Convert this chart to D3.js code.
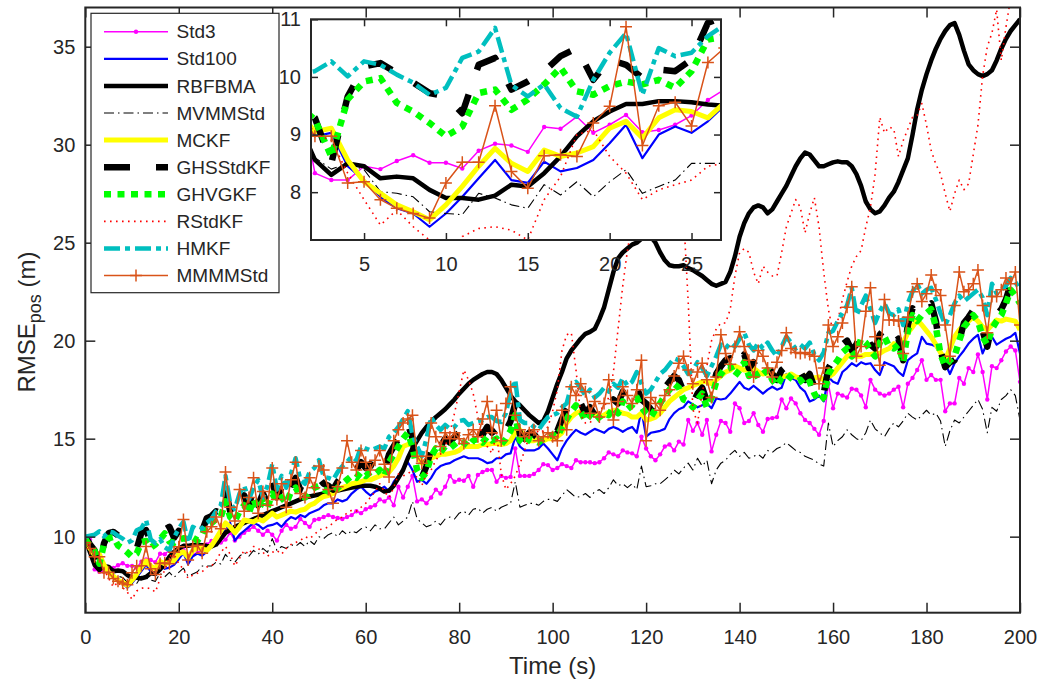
<!DOCTYPE html>
<html><head><meta charset="utf-8">
<script src="https://cdn.jsdelivr.net/npm/d3@7"></script>
<style>body{margin:0;background:#fff}text{font-family:"Liberation Sans",Arial,Helvetica,sans-serif;fill:#262626}</style>
</head><body>
<script>
// ---- data (RMSE of position, m), one value per second t = 0..200 ----
const xTicks = [0,20,40,60,80,100,120,140,160,180,200];
const yTicks = [10,15,20,25,30,35];
const insetXTicks = [5,10,15,20,25];
const insetYTicks = [8,9,10,11];
const seriesNames = ["Std3","Std100","RBFBMA","MVMMStd","MCKF","GHSStdKF","GHVGKF","RStdKF","HMKF","MMMMStd"];

const std3 = [
10.0,9.85,8.33,8.21,8.21,8.45,8.40,8.54,8.64,8.51,
8.51,8.41,8.72,8.84,8.81,8.70,9.13,9.10,9.31,9.03,
9.17,9.34,9.04,9.08,9.17,9.33,9.60,9.78,9.75,9.70,
9.85,10.2,9.8,10.0,10.2,10.35,10.5,10.3,10.1,10.3,
10.1,9.8,10.3,10.6,10.4,10.5,10.9,10.7,10.5,10.85,
10.9,11.0,11.1,11.0,10.95,10.9,11.0,11.1,11.3,11.2,
11.4,11.5,11.6,11.9,11.8,12.0,11.6,12.55,12.0,12.55,
13.1,11.8,11.9,11.7,12.0,12.4,12.2,12.55,13.1,12.8,
12.9,12.85,13.1,12.55,13.15,13.3,13.4,13.4,12.8,13.1,
13.0,13.05,14.5,13.1,13.1,13.1,13.2,13.4,13.7,13.65,
13.4,13.5,13.7,13.6,13.5,13.9,13.8,13.8,13.8,13.75,
13.8,14.0,14.3,14.2,14.1,14.4,14.3,14.25,14.1,15.1,
14.5,14.1,13.9,14.2,14.6,14.7,14.4,14.85,14.7,15.95,
15.4,15.8,15.2,15.95,14.35,15.2,15.9,15.8,15.35,16.8,
16.55,15.8,15.9,16.3,15.7,15.35,16.0,16.05,16.1,17.0,
16.55,17.05,16.8,16.3,15.95,15.8,15.5,15.2,15.9,17.8,
16.55,17.3,17.2,17.1,17.55,17.5,17.2,16.6,18.0,17.5,
17.3,17.2,17.3,17.5,17.65,16.6,17.8,18.1,18.5,19.0,
18.0,18.25,18.0,18.0,16.4,16.8,16.8,18.1,17.8,18.6,
18.4,19.3,18.4,17.0,18.7,18.6,19.0,19.45,19.7,19.5,
17.9];

const std100 = [
10.0,9.5,8.97,9.03,8.45,8.21,7.92,7.72,7.63,7.40,
7.63,7.92,8.24,8.56,8.21,8.16,8.53,8.36,8.42,8.56,
8.85,9.17,8.59,9.0,9.14,9.03,9.23,9.5,9.7,10.0,
10.3,10.7,9.8,10.1,10.3,10.5,10.7,10.6,10.4,10.55,
10.6,10.7,10.5,10.8,11.0,10.9,11.1,11.0,11.2,11.3,
11.4,11.6,11.7,11.7,11.9,11.8,11.9,12.2,12.4,12.55,
12.3,12.1,12.3,12.4,12.55,12.3,12.8,13.1,13.4,13.8,
13.4,12.8,12.9,12.7,13.0,13.4,13.6,13.7,13.75,13.9,
14.0,14.1,14.0,14.0,14.0,13.9,13.75,13.8,14.0,14.0,
14.2,14.25,15.1,14.6,14.4,14.4,14.4,14.5,14.75,14.5,
14.2,13.9,14.5,14.9,15.2,15.45,15.3,15.2,15.35,15.5,
15.4,15.3,15.5,15.6,15.5,15.35,15.5,15.6,15.3,16.45,
15.1,15.3,15.35,15.4,15.5,16.0,16.3,16.5,16.6,16.9,
16.75,16.6,16.7,16.8,16.55,17.05,17.0,17.05,17.3,17.6,
17.9,17.6,17.5,17.7,17.5,17.3,17.5,17.65,17.5,17.6,
18.3,18.1,18.0,17.6,17.4,16.9,17.0,17.2,16.9,18.15,
17.9,17.8,18.4,18.6,18.85,18.7,18.9,18.8,18.85,18.5,
18.25,18.9,18.8,18.7,18.4,18.2,19.0,19.2,19.35,20.2,
19.85,19.8,19.7,19.3,18.85,18.3,18.85,19.2,19.5,19.85,
20.1,20.3,19.35,19.9,20.2,19.8,19.95,20.1,20.2,20.4,
19.35];

const rbfbma = [
9.9,9.2,8.56,8.30,8.50,8.45,8.24,8.27,8.24,8.04,
7.90,7.90,7.87,7.94,8.13,8.10,8.33,8.62,8.97,9.23,
9.40,9.53,9.53,9.58,9.58,9.56,9.52,9.50,9.6,9.9,
10.2,10.35,10.5,10.6,10.7,10.8,10.9,11.0,11.1,11.2,
11.3,11.4,11.5,11.6,11.7,11.8,11.9,12.0,12.05,12.1,
12.15,12.2,12.25,12.3,12.35,12.4,12.45,12.5,12.55,12.6,
12.6,12.6,12.55,12.45,12.3,12.35,12.6,13.0,13.4,14.0,
14.5,14.9,15.3,15.6,15.85,16.1,16.3,16.5,16.75,17.0,
17.3,17.55,17.8,18.0,18.15,18.3,18.4,18.4,18.3,18.0,
17.6,17.2,16.9,16.7,16.45,16.2,16.0,15.8,15.9,16.4,
17.1,17.8,18.4,19.1,19.5,19.8,20.1,20.35,20.45,20.6,
21.1,21.7,22.6,23.5,24.2,24.5,24.7,24.9,25.0,25.2,
25.3,25.3,25.0,24.5,24.1,23.85,23.8,23.8,23.85,23.7,
23.6,23.45,23.3,23.1,22.9,22.8,22.9,23.0,23.5,24.3,
25.3,26.0,26.5,26.8,26.9,26.8,26.5,26.7,27.1,27.5,
27.9,28.4,28.9,29.3,29.6,29.5,29.2,28.9,28.9,29.0,
29.1,29.15,29.1,29.1,28.9,28.5,27.9,27.1,26.7,26.5,
26.6,26.9,27.3,27.6,28.1,28.7,29.3,30.5,31.8,32.8,
33.6,34.3,34.9,35.4,35.8,36.1,36.2,35.6,34.8,34.1,
33.8,33.6,33.5,33.6,33.8,34.3,34.9,35.4,35.8,36.1,
36.4];

const mvmmstd = [
9.9,9.3,8.6,8.4,8.50,8.39,8.01,7.98,7.92,7.66,
7.63,7.61,7.98,7.90,7.78,7.72,8.13,7.95,8.18,7.92,
8.18,8.39,7.98,8.10,8.21,8.50,8.50,8.5,8.7,8.6,
9.1,8.8,8.7,9.0,9.2,9.0,9.3,9.1,9.4,9.2,
9.9,9.3,9.5,9.4,9.6,9.5,9.7,9.5,9.8,9.6,
10.0,9.9,10.1,10.2,10.0,10.3,10.1,10.3,10.2,10.4,
10.5,10.3,10.6,10.4,10.4,10.7,11.0,10.6,10.8,11.0,
11.8,10.9,10.7,10.5,10.6,10.8,10.6,10.9,11.0,10.9,
11.2,11.3,11.1,11.4,11.45,11.2,11.4,11.5,11.3,11.5,
11.6,11.7,12.8,11.5,11.6,11.7,11.7,11.6,11.8,11.9,
11.9,11.8,12.1,12.4,12.2,12.0,12.05,12.2,12.0,12.3,
12.4,12.2,12.5,12.9,12.6,12.7,12.5,12.7,12.4,13.6,
12.55,12.6,12.7,12.7,12.9,13.1,13.4,13.2,13.5,13.75,
13.4,14.0,13.6,13.9,12.7,13.4,13.75,13.9,14.2,14.4,
14.1,14.3,14.0,14.1,14.2,14.0,14.4,14.3,14.5,14.6,
14.8,14.6,14.4,14.3,14.1,14.0,13.9,13.7,13.6,15.8,
14.6,14.9,15.1,15.45,15.2,15.0,14.9,15.3,15.95,15.5,
15.3,15.1,15.5,15.8,15.6,15.9,16.3,16.1,15.95,16.2,
16.45,16.2,16.3,15.9,14.6,15.4,15.95,15.8,16.1,16.4,
16.7,17.0,16.5,15.3,16.6,16.4,17.0,17.2,17.5,17.2,
15.95];

const mckf = [
9.95,9.4,9.05,9.11,8.56,8.18,7.98,7.78,7.66,7.52,
7.78,8.10,8.45,8.76,8.50,8.36,8.73,8.62,8.68,8.79,
9.11,9.23,8.94,9.29,9.43,9.40,9.29,9.55,9.9,10.3,
10.7,10.5,10.2,10.5,10.85,10.8,10.75,10.9,10.8,11.0,
11.2,11.0,11.1,11.2,11.3,11.25,11.35,11.4,11.6,11.7,
11.9,12.05,12.1,12.2,12.4,12.5,12.6,12.7,12.75,12.8,
12.9,12.9,13.0,13.1,13.2,13.3,13.6,14.0,14.6,14.7,
14.75,14.2,13.75,13.8,14.0,14.1,14.2,14.2,14.25,14.3,
14.4,14.6,14.6,14.6,14.6,14.7,14.7,14.75,14.75,14.7,
14.75,14.9,15.3,15.45,15.1,14.9,14.9,14.95,14.9,15.0,
15.0,15.1,15.3,15.8,16.1,16.3,16.4,16.35,16.3,16.3,
16.1,16.2,16.35,16.45,16.4,16.3,16.25,16.1,16.1,16.3,
15.95,16.0,16.1,16.3,16.6,16.9,17.1,17.3,17.5,17.6,
17.7,17.8,17.9,17.9,17.8,18.0,18.2,18.4,18.5,18.7,
18.6,18.5,18.5,18.6,18.4,18.3,18.35,18.3,18.2,18.15,
18.2,18.3,18.15,18.1,18.2,18.15,18.1,18.15,18.0,18.15,
18.3,18.6,18.9,19.2,19.3,19.2,19.2,19.3,19.3,19.35,
19.35,19.5,19.6,19.85,19.7,19.9,20.4,20.7,21.05,20.8,
20.5,20.2,19.8,19.4,19.0,19.6,20.2,20.55,20.8,21.0,
21.2,21.0,20.7,20.55,20.8,21.05,21.0,21.1,21.05,21.0,
20.55];

const ghsstdkf = [
10.0,9.6,9.29,8.50,9.66,10.18,10.24,10.07,9.90,9.72,
9.66,9.37,10.21,10.33,9.78,9.92,10.10,10.36,10.50,9.95,
10.30,10.21,9.98,10.13,10.10,10.30,10.94,11.05,11.3,11.2,
12.4,11.3,11.0,11.6,12.1,11.5,12.6,11.6,12.2,11.7,
12.8,12.0,12.5,11.9,12.6,13.0,12.4,12.3,12.6,12.8,
13.0,12.7,12.6,12.4,12.8,13.1,13.3,13.6,13.4,13.8,
13.5,13.7,13.6,13.9,13.4,14.2,14.6,15.0,15.4,15.8,
15.0,13.5,13.0,13.6,14.5,15.0,14.6,15.0,14.8,15.1,
15.3,15.2,15.0,15.3,15.4,15.2,15.6,15.3,15.5,15.0,
15.4,15.9,16.8,15.2,15.0,15.3,15.2,15.0,15.3,15.4,
15.6,15.4,16.0,16.5,16.9,17.2,16.8,16.3,16.6,16.2,
16.5,16.7,16.6,17.0,16.8,17.4,16.9,17.1,17.6,17.0,
16.8,16.5,16.9,17.2,17.6,17.9,18.2,18.0,17.4,17.2,
16.8,17.3,17.6,16.9,17.4,18.3,18.7,19.0,19.1,18.6,
18.9,19.3,18.6,18.9,18.4,18.7,18.8,18.3,18.0,18.5,
18.7,18.5,18.2,18.4,18.0,18.3,17.6,17.0,17.3,18.6,
19.0,19.3,19.8,20.0,19.5,19.8,20.5,20.3,19.8,19.6,
20.3,20.6,20.0,19.9,20.1,19.0,20.8,21.65,21.3,21.6,
21.7,21.9,21.0,19.5,18.65,18.9,19.0,20.0,20.9,21.2,
21.55,21.2,20.5,19.7,20.8,21.3,21.6,22.1,22.9,22.5,
22.2];

const ghvgkf = [
9.9,9.5,9.26,8.62,9.61,9.92,9.98,9.55,9.40,9.20,
8.97,9.14,9.72,9.78,9.43,9.61,9.87,10.16,9.75,9.69,
9.84,9.92,9.87,9.95,9.81,10.10,10.65,10.7,10.9,11.0,
11.8,11.0,10.8,11.3,11.6,11.2,11.9,11.4,11.8,11.5,
12.2,11.8,12.0,11.7,12.3,12.5,12.1,12.0,12.3,12.5,
12.6,12.4,12.3,12.2,12.5,12.7,12.9,13.1,13.0,13.3,
13.1,13.3,13.2,13.4,13.1,13.8,14.2,14.6,15.0,15.3,
14.6,13.4,13.0,13.3,14.1,14.5,14.3,14.6,14.5,14.7,
14.9,14.8,14.6,14.9,15.0,14.8,15.1,14.9,15.0,14.7,
15.0,15.4,16.2,14.9,14.7,15.0,14.9,14.8,15.0,15.1,
15.2,15.1,15.6,16.0,16.4,16.7,16.4,15.9,16.2,15.9,
16.1,16.3,16.2,16.6,16.3,16.9,16.5,16.7,17.1,16.6,
16.3,16.1,16.5,16.8,17.2,17.5,17.8,17.6,17.0,16.9,
16.6,17.0,17.3,16.6,17.1,17.9,18.3,18.6,18.7,18.2,
18.5,18.9,18.2,18.5,18.1,18.3,18.5,18.0,17.7,18.1,
18.3,18.1,17.9,18.0,17.7,17.9,17.3,16.9,17.1,18.3,
18.7,19.0,19.4,19.6,19.2,19.4,20.1,19.9,19.5,19.2,
19.9,20.2,19.7,19.6,19.8,18.9,20.5,21.3,21.0,21.3,
21.4,21.6,20.7,19.3,18.7,19.0,19.2,20.0,20.7,21.0,
21.3,21.0,20.2,19.8,20.6,21.0,21.3,21.9,22.6,22.3,
21.9];

const rstdkf = [
9.9,9.5,9.0,8.9,8.33,7.87,7.43,7.69,7.40,7.17,
6.8,7.23,7.37,7.40,7.34,7.17,7.87,8.27,9.0,9.08,
8.62,8.33,7.87,8.04,8.13,8.21,8.45,8.5,8.8,9.2,
9.5,9.1,8.5,8.9,9.3,9.1,9.5,9.4,9.2,9.0,
9.2,9.3,9.1,9.4,9.6,9.7,9.8,10.0,9.9,10.1,
10.35,10.4,10.5,10.7,10.9,11.0,11.2,11.35,11.3,11.5,
11.7,12.0,12.3,12.7,12.3,12.0,12.5,13.2,13.1,13.2,
13.4,13.0,12.6,13.2,13.4,13.9,14.2,14.6,15.3,16.3,
17.4,18.5,18.0,17.3,16.1,15.1,14.6,14.25,15.3,13.2,
12.4,12.7,13.1,13.7,14.4,15.1,15.6,15.3,15.4,15.6,
16.4,17.5,19.5,20.3,20.4,18.5,16.2,15.8,15.8,16.2,
16.5,16.6,17.1,18.4,20.6,22.8,24.6,26.0,27.0,27.5,
27.8,27.6,27.2,26.8,26.6,26.3,26.0,25.8,26.5,22.0,
16.5,15.8,17.3,18.7,20.0,20.6,20.9,20.9,21.6,23.3,
24.5,24.7,24.5,23.5,22.9,23.8,23.5,23.3,23.3,24.5,
25.8,26.5,27.2,26.8,25.5,26.5,27.3,25.8,23.5,21.6,
20.4,21.0,22.1,23.0,23.8,24.3,24.6,25.8,26.8,28.5,
31.4,30.6,30.9,30.8,29.4,30.2,30.8,31.4,31.5,32.1,
31.0,29.7,29.0,28.5,27.5,26.6,27.5,28.2,27.7,28.0,
29.5,31.0,33.5,35.0,35.7,36.9,34.3,36.0,37.5,37.5,
38.0];

const hmkf = [
10.0,10.05,10.1,10.27,10.01,10.27,10.21,10.04,9.90,9.69,
9.81,10.33,10.44,10.85,9.86,9.66,9.87,9.46,9.31,9.95,
10.42,10.76,9.69,10.50,10.36,10.42,10.71,10.9,11.3,11.6,
13.1,11.7,11.4,12.2,12.6,11.9,12.5,12.9,12.0,12.6,
13.7,12.4,13.1,12.5,13.2,14.0,12.9,12.7,13.3,13.5,
13.9,13.05,13.0,12.9,13.3,13.6,13.8,14.1,13.9,14.6,
14.5,14.4,14.5,14.6,14.5,15.1,15.3,15.6,16.0,16.4,
15.2,14.6,14.1,15.0,16.1,15.7,15.45,15.7,15.5,15.6,
15.9,15.95,15.7,15.8,15.9,15.95,16.1,16.1,15.9,15.85,
16.3,17.4,18.0,15.95,15.8,15.8,15.6,15.45,15.8,16.1,
16.2,16.3,16.6,16.8,17.7,17.9,17.6,17.2,17.5,17.1,
17.3,17.6,17.4,17.8,17.6,18.1,17.7,17.9,18.4,17.8,
17.3,17.5,17.9,18.3,18.5,18.8,19.1,19.0,18.7,18.3,
18.5,18.9,18.6,18.2,18.7,19.2,19.8,19.6,19.9,19.7,
20.1,20.4,19.8,19.5,19.9,19.6,19.9,19.5,19.2,19.7,
20.2,19.9,19.6,19.8,19.6,19.9,19.3,19.0,19.4,20.4,
20.5,21.0,21.4,21.8,22.7,21.3,21.8,22.3,21.6,20.9,
21.5,21.9,21.4,21.3,21.6,20.8,21.9,22.5,22.9,22.4,
22.6,22.7,22.1,21.4,20.8,21.3,21.9,22.3,22.0,22.2,
22.4,22.6,22.2,21.3,22.9,22.4,22.6,22.8,23.2,23.0,
22.6];

const mmmmstd = [
9.7,9.4,8.97,8.97,8.16,8.18,7.87,7.72,7.63,7.55,
8.16,8.52,8.52,9.50,8.36,8.07,8.63,8.65,8.62,9.20,
9.49,10.87,8.81,9.50,9.56,9.15,10.25,10.5,11.0,10.4,
13.3,11.5,10.8,12.4,11.3,12.0,13.0,11.2,12.3,11.6,
13.5,11.9,12.7,11.5,12.9,13.8,12.2,12.0,13.0,12.5,
13.6,13.4,12.4,11.7,12.55,13.5,14.9,13.8,13.4,14.4,
13.8,13.4,13.9,14.4,13.7,13.05,14.9,15.45,15.8,16.0,
16.2,14.1,13.75,14.1,15.8,15.1,14.6,15.3,15.0,15.3,
15.0,14.75,15.2,15.45,15.1,16.0,16.9,15.3,16.45,14.9,
16.8,17.65,16.2,15.45,15.1,15.3,15.45,14.9,15.1,15.3,
15.1,14.9,16.45,15.45,17.65,17.2,17.8,17.4,16.3,16.9,
16.1,16.8,18.0,15.95,16.9,17.65,17.2,16.8,17.5,19.0,
14.9,17.1,16.8,16.45,17.2,17.5,18.2,18.85,19.2,18.5,
17.8,18.4,18.85,18.0,17.1,18.15,20.3,19.35,18.8,19.7,
20.45,19.7,19.0,18.15,19.5,19.2,18.6,18.15,18.9,19.5,
20.4,19.6,19.4,19.35,19.4,19.3,19.2,17.8,18.6,20.8,
19.7,20.2,20.9,21.7,22.75,19.2,19.7,21.5,22.7,20.2,
18.75,22.1,21.05,21.05,21.0,19.35,21.2,22.5,22.9,22.0,
22.4,23.35,22.6,22.3,20.8,19.2,21.8,23.5,22.5,22.6,
22.9,23.6,21.8,20.4,22.25,22.25,22.6,23.2,22.9,23.5,
20.8];

const seriesValues = [std3,std100,rbfbma,mvmmstd,mckf,ghsstdkf,ghvgkf,rstdkf,hmkf,mmmmstd];

// ---- styles ----
const styles = [
  {color:"#ff00ff", width:1.5, dash:null, marker:"dot"},
  {color:"#0000ff", width:2.2, dash:null},
  {color:"#000000", width:4.5, dash:null},
  {color:"#000000", width:1.1, dash:"10,4,1.5,4"},
  {color:"#ffff00", width:5, dash:null},
  {color:"#000000", width:6.5, dash:"26,26"},
  {color:"#00ff00", width:6.5, dash:"7,6.5"},
  {color:"#ff0000", width:1.6, dash:"1.6,4.4"},
  {color:"#00bfbf", width:4.5, dash:"16,5,5,5"},
  {color:"#d95319", width:1.5, dash:null, marker:"plus"}
];

const W = 1037, H = 686;
const svg = d3.select("body").append("svg").attr("width", W).attr("height", H);
const axColor = "#262626";

const M = {l:85.3, r:1020, t:7.5, b:612.7};
const x = d3.scaleLinear().domain([0,200]).range([M.l, M.r]);
const y = d3.scaleLinear().domain([6.12,37]).range([M.b, M.t]);
const time = seriesValues[0].map((d,i)=>i);
const fmt = d3.format("d");

function drawSeries(g, xs, ys, clipId, xmin, xmax){
  seriesValues.forEach((vals, k)=>{
    const st = styles[k];
    const idx = d3.range(vals.length);
    const ln = d3.line().x(i=>xs(time[i])).y(i=>ys(vals[i]));
    g.append("path").attr("d", ln(idx)).attr("fill","none")
      .attr("stroke", st.color).attr("stroke-width", st.width)
      .attr("stroke-dasharray", st.dash).attr("stroke-linejoin","round")
      .attr("clip-path", `url(#${clipId})`);
    const vis = idx.filter(i=>time[i]>=xmin-1 && time[i]<=xmax+1);
    if(st.marker==="dot"){
      g.append("g").attr("clip-path", `url(#${clipId})`).selectAll("circle").data(vis).join("circle")
        .attr("cx", i=>xs(time[i])).attr("cy", i=>ys(vals[i])).attr("r",2.2).attr("fill", st.color);
    } else if(st.marker==="plus"){
      g.append("g").attr("clip-path", `url(#${clipId})`).selectAll("path").data(vis).join("path")
        .attr("d", i=>{const px=xs(time[i]), py=ys(vals[i]); return `M${px-6},${py}H${px+6}M${px},${py-6}V${py+6}`;})
        .attr("stroke", st.color).attr("stroke-width",1.5).attr("fill","none");
    }
  });
}

const defs = svg.append("defs");
defs.append("clipPath").attr("id","clipMain").append("rect")
  .attr("x",M.l).attr("y",M.t).attr("width",M.r-M.l).attr("height",M.b-M.t);

const gMain = svg.append("g");
drawSeries(gMain, x, y, "clipMain", 0, 200);

function styleAxis(g){
  g.select(".domain").remove();
  g.selectAll(".tick line").attr("stroke",axColor).attr("stroke-width",1.5);
  g.selectAll(".tick text").style("font-size","20px").attr("fill",axColor).style("font-family",'"Liberation Sans",Arial,sans-serif');
}
svg.append("g").attr("transform",`translate(0,${M.b})`)
  .call(d3.axisBottom(x).tickValues(xTicks).tickFormat(fmt).tickSizeInner(-10).tickSizeOuter(0).tickPadding(17)).call(styleAxis);
svg.append("g").attr("transform",`translate(0,${M.t})`)
  .call(d3.axisTop(x).tickValues(xTicks).tickSizeInner(-10).tickSizeOuter(0).tickFormat("")).call(styleAxis);
svg.append("g").attr("transform",`translate(${M.l},0)`)
  .call(d3.axisLeft(y).tickValues(yTicks).tickFormat(fmt).tickSizeInner(-10).tickSizeOuter(0).tickPadding(10)).call(styleAxis);
svg.append("g").attr("transform",`translate(${M.r},0)`)
  .call(d3.axisRight(y).tickValues(yTicks).tickSizeInner(-10).tickSizeOuter(0).tickFormat("")).call(styleAxis);
svg.append("rect").attr("x",M.l).attr("y",M.t).attr("width",M.r-M.l).attr("height",M.b-M.t)
  .attr("fill","none").attr("stroke",axColor).attr("stroke-width",2);

// axis labels
svg.append("text").attr("x",(M.l+M.r)/2).attr("y",674).attr("text-anchor","middle")
  .style("font-size","24px").text("Time (s)");
const yl = svg.append("text").attr("transform","translate(35,322) rotate(-90)").attr("text-anchor","middle")
  .style("font-size","24px");
yl.append("tspan").text("RMSE");
yl.append("tspan").attr("dy",6).style("font-size","18px").text("pos");
yl.append("tspan").attr("dy",-6).text(" (m)");

// ---- inset ----
const I = {l:311, r:721, t:19.3, b:240};
const xi = d3.scaleLinear().domain([1.76,26.8]).range([I.l, I.r]);
const yi = d3.scaleLinear().domain([7.17,11]).range([I.b, I.t]);
defs.append("clipPath").attr("id","clipInset").append("rect")
  .attr("x",I.l).attr("y",I.t).attr("width",I.r-I.l).attr("height",I.b-I.t);
svg.append("rect").attr("x",I.l).attr("y",I.t).attr("width",I.r-I.l).attr("height",I.b-I.t).attr("fill","#fff");
const gIn = svg.append("g");
drawSeries(gIn, xi, yi, "clipInset", 1.76, 26.8);
svg.append("g").attr("transform",`translate(0,${I.b})`)
  .call(d3.axisBottom(xi).tickValues(insetXTicks).tickFormat(fmt).tickSizeInner(-7).tickSizeOuter(0).tickPadding(17)).call(styleAxis);
svg.append("g").attr("transform",`translate(0,${I.t})`)
  .call(d3.axisTop(xi).tickValues(insetXTicks).tickSizeInner(-7).tickSizeOuter(0).tickFormat("")).call(styleAxis);
svg.append("g").attr("transform",`translate(${I.l},0)`)
  .call(d3.axisLeft(yi).tickValues(insetYTicks).tickFormat(fmt).tickSizeInner(-7).tickSizeOuter(0).tickPadding(10)).call(styleAxis);
svg.append("g").attr("transform",`translate(${I.r},0)`)
  .call(d3.axisRight(yi).tickValues(insetYTicks).tickSizeInner(-7).tickSizeOuter(0).tickFormat("")).call(styleAxis);
svg.append("rect").attr("x",I.l).attr("y",I.t).attr("width",I.r-I.l).attr("height",I.b-I.t)
  .attr("fill","none").attr("stroke",axColor).attr("stroke-width",2);

// ---- legend ----
const L = {x:91, y:13.3, w:188, h:279.4};
svg.append("rect").attr("x",L.x).attr("y",L.y).attr("width",L.w).attr("height",L.h)
  .attr("fill","#fff").attr("stroke",axColor).attr("stroke-width",1.2);
seriesNames.forEach((name,k)=>{
  const st = styles[k];
  const ly = 31.7 + k*27.1;
  const g = svg.append("g");
  g.append("line").attr("x1",104).attr("x2",168).attr("y1",ly).attr("y2",ly)
    .attr("stroke",st.color).attr("stroke-width",st.width).attr("stroke-dasharray",st.dash);
  if(st.marker==="dot") g.append("circle").attr("cx",136).attr("cy",ly).attr("r",2.2).attr("fill",st.color);
  if(st.marker==="plus") g.append("path").attr("d",`M130,${ly}H142M136,${ly-6}V${ly+6}`).attr("stroke",st.color).attr("stroke-width",1.5);
  g.append("text").attr("x",176.5).attr("y",ly).attr("dy","0.35em").style("font-size","19px").text(name);
});
</script>
</body></html>
